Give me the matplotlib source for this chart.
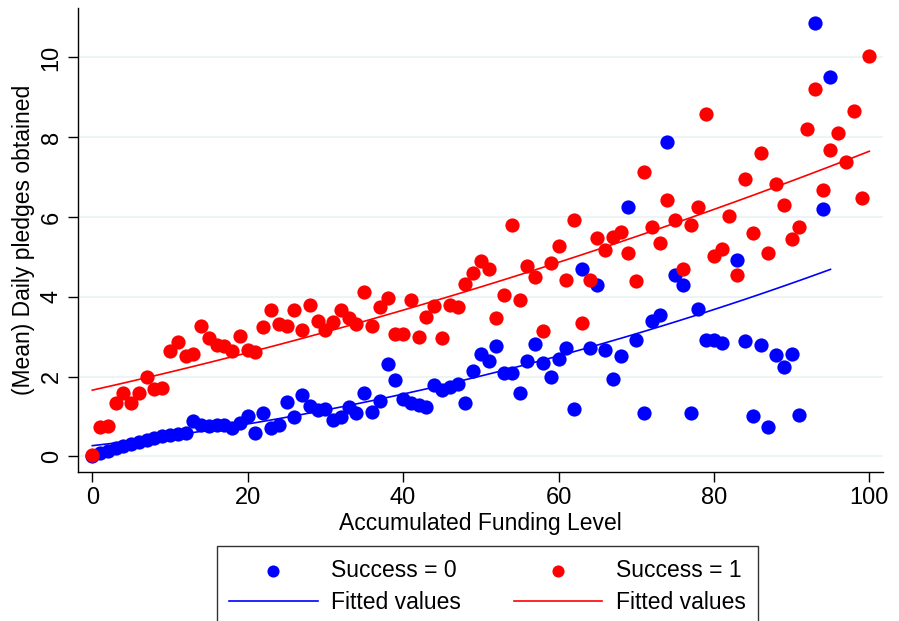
import numpy as np
import matplotlib.pyplot as plt

plt.rcParams['font.family'] = ['Liberation Sans', 'DejaVu Sans']

# funding level (x) and mean daily pledges (y) per group
x_fail = np.arange(0, 96)
y_fail = [0.02, 0.08, 0.14, 0.20, 0.27, 0.30, 0.36, 0.42, 0.45, 0.50,
          0.53, 0.56, 0.60, 0.88, 0.78, 0.76, 0.78, 0.80, 0.72, 0.85,
          1.01, 0.59, 1.08, 0.72, 0.78, 1.37, 1.00, 1.53, 1.26, 1.16,
          1.19, 0.91, 0.98, 1.25, 1.09, 1.58, 1.12, 1.38, 2.32, 1.91,
          1.45, 1.34, 1.29, 1.25, 1.78, 1.66, 1.75, 1.82, 1.34, 2.15,
          2.56, 2.38, 2.76, 2.09, 2.09, 1.58, 2.38, 2.82, 2.34, 2.00,
          2.44, 2.71, 1.20, 4.69, 2.71, 4.29, 2.66, 1.93, 2.53, 6.26,
          2.93, 1.08, 3.39, 3.54, 7.87, 4.56, 4.29, 1.08, 3.70, 2.93,
          2.93, 2.85, np.nan, 4.93, 2.89, 1.01, 2.80, 0.74, 2.55, 2.23,
          2.56, 1.03, np.nan, 10.87, 6.19, 9.52]

x_succ = np.arange(0, 101)
y_succ = [0.04, 0.74, 0.77, 1.33, 1.58, 1.33, 1.58, 1.98, 1.70, 1.72,
          2.65, 2.87, 2.53, 2.57, 3.28, 2.97, 2.79, 2.76, 2.64, 3.01,
          2.68, 2.62, 3.25, 3.68, 3.32, 3.28, 3.66, 3.18, 3.79, 3.39,
          3.18, 3.38, 3.68, 3.48, 3.33, 4.13, 3.28, 3.74, 3.96, 3.07,
          3.07, 3.91, 3.00, 3.50, 3.76, 2.97, 3.79, 3.75, 4.31, 4.59,
          4.89, 4.70, 3.48, 4.04, 5.81, 3.91, 4.78, 4.51, 3.15, 4.85,
          5.28, 4.42, 5.93, 3.35, 4.42, 5.47, 5.17, 5.50, 5.62, 5.10,
          4.39, 7.13, 5.76, 5.36, 6.44, 5.92, 4.69, 5.81, 6.26, 8.58,
          5.02, 5.21, 6.03, 4.55, 6.96, 5.61, 7.60, 5.10, 6.84, 6.31,
          5.46, 5.75, 8.20, 9.20, 6.67, 7.68, 8.10, 7.39, 8.67, 6.49,
          10.03]

y_fail = np.array(y_fail)
y_succ = np.array(y_succ)


def qfit(x, y):
    ok = ~np.isnan(y)
    coef = np.polyfit(x[ok], y[ok], 2)
    return np.polyval(coef, x)


fig = plt.figure(figsize=(8.99, 6.21), dpi=100)
ax = fig.add_axes([78 / 899, 1 - 472 / 621, 805 / 899, 464 / 621])

p0 = ax.scatter(x_fail, y_fail, s=105, color='#0000ff', linewidths=0, zorder=3)
p1 = ax.scatter(x_succ, y_succ, s=105, color='#ff0000', linewidths=0, zorder=3)
l0, = ax.plot(x_fail, qfit(x_fail, y_fail), color='#0000ff', lw=1.2, zorder=4)
l1, = ax.plot(x_succ, qfit(x_succ, y_succ), color='#ff0000', lw=1.2, zorder=4)

ax.set_xlim(-1.84, 101.76)
ax.set_ylim(-0.39, 11.24)
ax.set_xticks([0, 20, 40, 60, 80, 100])
ax.set_yticks([0, 2, 4, 6, 8, 10])
ax.set_yticklabels(['0', '2', '4', '6', '8', '10'], rotation=90, va='center')
ax.tick_params(labelsize=17, length=7, width=1, color='black', pad=4)
ax.grid(axis='y', color='#eaf2f3', lw=1.2, zorder=0)
ax.set_axisbelow(True)
for side in ['top', 'right']:
    ax.spines[side].set_visible(False)
for side in ['left', 'bottom']:
    ax.spines[side].set_linewidth(1)

ax.set_xlabel('Accumulated Funding Level', fontsize=16.5, labelpad=2)
ax.set_ylabel('(Mean) Daily pledges obtained', fontsize=16.5, labelpad=4)

leg = fig.legend([p0, l0, p1, l1],
                 ['Success = 0', 'Fitted values', 'Success = 1', 'Fitted values'],
                 ncol=2, loc='upper center', bbox_to_anchor=(487.5 / 899, 1 - 546 / 621),
                 borderaxespad=0, fontsize=16.5, frameon=True, fancybox=False,
                 edgecolor='black', handlelength=3.85, handletextpad=0.6,
                 columnspacing=2.3, scatterpoints=1, borderpad=0.55,
                 labelspacing=0.42, markerscale=0.85)
leg.get_frame().set_linewidth(1)

fig.savefig('out.png', dpi=100)
